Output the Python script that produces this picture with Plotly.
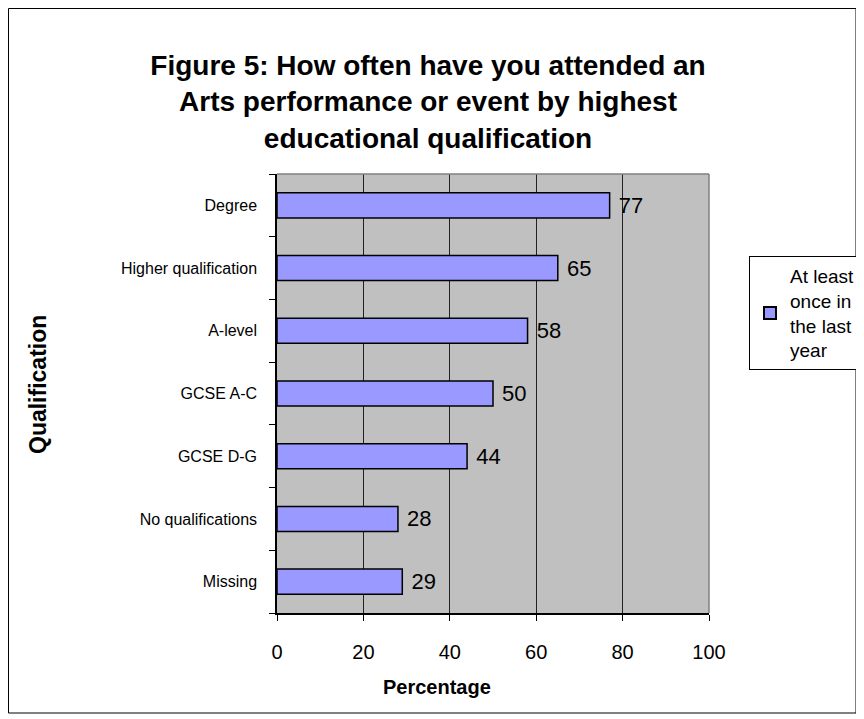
import plotly.graph_objects as go

categories = ["Degree", "Higher qualification", "A-level", "GCSE A-C",
              "GCSE D-G", "No qualifications", "Missing"]
values = [77, 65, 58, 50, 44, 28, 29]
series_name = "At least<br>once in<br>the last<br>year"
title_text = ("Figure 5: How often have you attended an<br>"
              "Arts performance or event by highest<br>"
              "educational qualification")
x_ticks = [0, 20, 40, 60, 80, 100]

W, H = 864, 719
# plot area in figure pixels
PL, PR, PT, PB = 269, 701, 166, 605
pw, ph = PR - PL, PB - PT

def px_x(x):
    return (x - PL) / pw

def px_y(y):
    return (PB - y) / ph

FONT = "Liberation Sans, Arial, sans-serif"

fig = go.Figure()
fig.add_trace(go.Bar(
    x=values, y=categories, orientation="h", name=series_name,
    marker=dict(color="#9999FF", line=dict(color="black", width=1.5)),
    text=values, texttemplate=" %{x}", textposition="outside",
    textfont=dict(size=22, color="black", family=FONT),
    cliponaxis=False, showlegend=True,
))

fig.update_layout(
    width=W, height=H,
    margin=dict(l=PL, r=W - PR, t=PT, b=H - PB, autoexpand=False),
    paper_bgcolor="white", plot_bgcolor="#C0C0C0",
    font=dict(family=FONT, color="black"),
    bargap=0.6,
    title=dict(text=title_text, x=420 / W, xanchor="center",
               y=1 - 67 / H, yanchor="middle", xref="container", yref="container",
               font=dict(size=28, family=FONT, color="black", weight="bold")),
    showlegend=True,
    legend=dict(x=741 / W, y=1 - 248 / H, xanchor="left", yanchor="top",
                xref="container", yref="container",
                bgcolor="white", bordercolor="black", borderwidth=1,
                font=dict(size=19, family=FONT, color="black"),
                itemwidth=30, itemsizing="constant", tracegroupgap=0),
    xaxis=dict(range=[0, 100], tickvals=x_ticks, showgrid=True,
               gridcolor="#222222", gridwidth=1, zeroline=False,
               showline=True, linecolor="black", linewidth=1.5,
               ticks="outside", ticklen=6, tickcolor="black",
               tickfont=dict(size=20, family=FONT), ticklabelstandoff=14,
               automargin=False, fixedrange=True),
    yaxis=dict(categoryorder="array", categoryarray=categories[::-1],
               tickson="boundaries", ticks="outside", ticklen=6,
               tickcolor="black", showgrid=False, showline=True,
               linecolor="black", linewidth=1.5, automargin=False,
               tickfont=dict(size=16, family=FONT), ticklabelstandoff=15),
    annotations=[
        dict(text="<b>Qualification</b>", x=px_x(30), y=px_y(377), xref="paper",
             yref="paper", textangle=-90, showarrow=False,
             xanchor="center", yanchor="middle",
             font=dict(size=23, family=FONT)),
        dict(text="<b>Percentage</b>", x=px_x(429), y=px_y(679), xref="paper",
             yref="paper", showarrow=False, xanchor="center", yanchor="middle",
             font=dict(size=20, family=FONT)),
    ],
    shapes=[
        dict(type="line", xref="paper", yref="paper", x0=0, x1=1, y0=1, y1=1,
             line=dict(color="#808080", width=1.5)),
        dict(type="line", xref="paper", yref="paper", x0=1, x1=1, y0=0, y1=1,
             line=dict(color="#808080", width=1.5)),
        dict(type="rect", xref="paper", yref="paper",
             x0=px_x(0.5), x1=px_x(848), y0=px_y(705), y1=px_y(0.5),
             line=dict(color="black", width=1), layer="below"),
    ],
)

fig.write_html("out.html")
